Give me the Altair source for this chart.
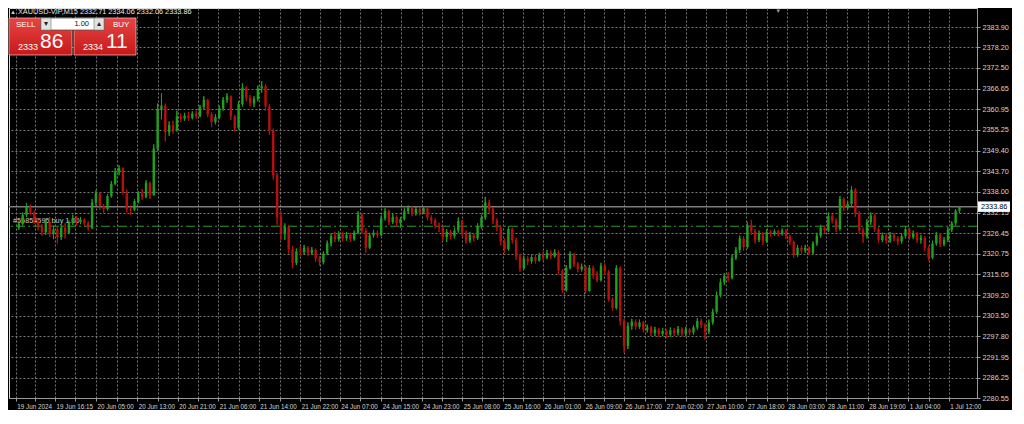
import altair as alt
import pandas as pd

# ---------------- data ----------------
first_open = 2328.0
closes = [
    2329.0, 2331.5, 2333.8, 2332.2, 2329.8, 2328.4, 2326.8, 2329.6, 2326.2, 2327.5,
    2325.4, 2328.0, 2326.6, 2329.4, 2330.6, 2329.6, 2330.2, 2329.2, 2328.0, 2335.0,
    2337.6, 2334.0, 2333.2, 2336.8, 2340.2, 2343.6, 2344.6, 2338.0, 2333.2, 2333.0,
    2335.4, 2337.6, 2336.6, 2340.4, 2337.0, 2350.0, 2360.8, 2362.0, 2354.6, 2356.6,
    2355.2, 2359.0, 2358.4, 2359.2, 2358.6, 2359.8, 2359.0, 2361.6, 2363.6, 2359.6,
    2357.4, 2358.8, 2361.2, 2363.6, 2364.6, 2359.0, 2355.8, 2362.4, 2367.0, 2364.2,
    2362.6, 2363.8, 2366.8, 2367.4, 2361.8, 2355.0, 2342.6, 2331.0, 2326.4, 2328.2,
    2322.0, 2318.2, 2321.4, 2321.2, 2322.4, 2321.0, 2321.8, 2319.4, 2318.4, 2320.8,
    2323.6, 2325.6, 2324.8, 2326.2, 2325.0, 2326.0, 2324.8, 2326.6, 2331.6, 2327.2,
    2322.4, 2325.8, 2326.6, 2326.0, 2330.6, 2332.6, 2329.6, 2331.0, 2329.2, 2330.4,
    2332.6, 2333.6, 2332.0, 2333.2, 2332.2, 2333.4, 2330.8, 2330.0, 2328.6, 2328.0,
    2325.4, 2326.8, 2325.6, 2327.2, 2329.8, 2326.6, 2324.4, 2326.0, 2325.0, 2328.4,
    2330.8, 2335.0, 2333.2, 2330.0, 2328.0, 2324.2, 2322.0, 2327.6, 2324.6, 2320.0,
    2316.6, 2319.4, 2318.6, 2319.8, 2318.8, 2320.4, 2319.6, 2321.0, 2320.0, 2321.2,
    2316.0, 2310.6, 2316.8, 2320.6, 2317.8, 2316.4, 2317.2, 2310.4, 2316.8, 2314.6,
    2313.4, 2317.4, 2315.8, 2308.0, 2305.6, 2316.8, 2302.0, 2295.0, 2300.6, 2301.8,
    2300.4, 2301.6, 2299.6, 2300.2, 2298.6, 2299.6, 2298.4, 2299.2, 2298.2, 2299.4,
    2298.6, 2299.8, 2298.4, 2299.6, 2298.8, 2300.2, 2302.0, 2300.8, 2299.0, 2301.6,
    2304.6, 2309.2, 2312.8, 2314.6, 2314.0, 2319.6, 2321.8, 2325.0, 2322.6, 2328.6,
    2327.0, 2324.6, 2326.4, 2324.2, 2326.8, 2326.2, 2327.0, 2326.4, 2327.2, 2325.6,
    2324.0, 2320.4, 2322.4, 2321.6, 2322.4, 2321.0, 2323.6, 2325.8, 2328.0, 2327.2,
    2331.2, 2330.0, 2327.6, 2336.0, 2333.6, 2334.6, 2338.6, 2332.0, 2327.2, 2325.6,
    2329.6, 2331.4, 2327.6, 2324.6, 2325.8, 2324.4, 2326.0, 2325.0, 2324.2, 2325.6,
    2327.6, 2325.4, 2326.4, 2324.6, 2325.2, 2322.4, 2319.6, 2323.6, 2326.0, 2323.4,
    2324.6, 2327.4, 2329.2, 2332.71, 2333.86,
]
highs = [
    2329.8, 2332.2, 2334.8, 2334.4, 2332.8, 2330.6, 2329.0, 2330.5, 2331.0, 2328.6,
    2328.4, 2328.8, 2329.2, 2330.0, 2331.6, 2331.2, 2331.0, 2330.6, 2329.8, 2336.0,
    2338.4, 2337.8, 2334.6, 2337.4, 2341.0, 2344.6, 2345.4, 2344.8, 2338.6, 2334.2,
    2336.0, 2338.2, 2338.8, 2341.2, 2340.8, 2351.2, 2362.6, 2365.4, 2362.6, 2357.6,
    2357.8, 2360.6, 2359.8, 2360.0, 2360.2, 2360.4, 2360.6, 2362.2, 2364.6, 2363.8,
    2360.2, 2359.6, 2362.0, 2364.4, 2365.4, 2364.8, 2359.4, 2363.2, 2368.2, 2367.4,
    2365.0, 2364.6, 2367.6, 2368.8, 2368.0, 2362.4, 2355.6, 2343.2, 2332.6, 2329.2,
    2328.6, 2323.0, 2322.2, 2322.8, 2323.2, 2322.8, 2322.6, 2322.2, 2320.0, 2321.4,
    2324.4, 2326.4, 2326.8, 2327.0, 2326.8, 2326.8, 2326.6, 2327.2, 2332.6, 2332.0,
    2327.8, 2326.6, 2327.4, 2327.2, 2331.4, 2333.4, 2333.0, 2331.8, 2331.4, 2331.0,
    2333.4, 2334.2, 2334.0, 2333.8, 2333.6, 2334.0, 2333.8, 2331.4, 2330.6, 2329.4,
    2328.4, 2327.6, 2327.4, 2328.0, 2330.8, 2330.2, 2327.2, 2326.8, 2326.6, 2329.2,
    2331.6, 2336.6, 2335.8, 2333.8, 2330.6, 2328.6, 2325.0, 2328.4, 2328.0, 2325.2,
    2320.6, 2320.2, 2320.0, 2320.6, 2320.4, 2321.0, 2321.4, 2321.8, 2321.6, 2322.0,
    2321.6, 2316.4, 2317.6, 2321.4, 2321.0, 2318.4, 2318.0, 2317.6, 2317.6, 2317.4,
    2315.8, 2318.2, 2318.0, 2316.2, 2308.6, 2317.6, 2317.2, 2302.6, 2301.6, 2302.6,
    2302.4, 2302.4, 2302.0, 2301.0, 2300.6, 2300.4, 2300.0, 2300.0, 2299.6, 2300.2,
    2300.0, 2300.6, 2300.2, 2300.4, 2300.0, 2300.8, 2302.8, 2302.6, 2301.4, 2302.4,
    2305.4, 2310.2, 2313.8, 2315.4, 2315.6, 2320.4, 2322.6, 2325.8, 2325.6, 2329.6,
    2330.2, 2327.6, 2327.2, 2326.8, 2327.6, 2327.4, 2327.6, 2327.4, 2327.8, 2327.6,
    2326.0, 2324.4, 2323.2, 2323.0, 2323.2, 2322.8, 2324.2, 2326.6, 2328.8, 2328.6,
    2332.2, 2331.8, 2330.6, 2336.8, 2336.4, 2335.4, 2339.6, 2339.0, 2332.6, 2328.0,
    2330.4, 2332.2, 2331.8, 2328.2, 2326.6, 2326.4, 2326.8, 2326.6, 2325.6, 2326.4,
    2328.4, 2328.0, 2327.2, 2326.8, 2326.0, 2325.6, 2322.8, 2324.4, 2326.8, 2326.4,
    2325.4, 2328.2, 2329.8, 2333.2, 2334.06,
]
lows = [
    2327.4, 2328.6, 2331.0, 2331.5, 2329.0, 2327.2, 2325.8, 2326.0, 2325.4, 2324.8,
    2323.6, 2324.6, 2325.0, 2326.2, 2328.8, 2328.6, 2329.0, 2328.4, 2327.2, 2327.6,
    2334.2, 2333.0, 2332.2, 2332.8, 2336.4, 2339.8, 2342.6, 2337.2, 2332.2, 2331.6,
    2332.6, 2334.8, 2335.8, 2336.2, 2336.0, 2337.2, 2349.4, 2358.2, 2352.0, 2353.6,
    2354.2, 2354.8, 2357.4, 2357.8, 2357.8, 2358.2, 2358.4, 2358.8, 2361.0, 2358.8,
    2356.0, 2356.8, 2358.2, 2360.6, 2362.8, 2358.0, 2354.8, 2355.4, 2361.8, 2363.2,
    2361.8, 2361.6, 2363.2, 2365.6, 2360.6, 2353.8, 2341.4, 2328.8, 2324.6, 2324.6,
    2320.8, 2316.7, 2317.6, 2320.2, 2320.6, 2320.2, 2320.4, 2318.4, 2317.4, 2317.8,
    2320.4, 2322.8, 2324.0, 2324.2, 2324.2, 2324.4, 2324.0, 2324.4, 2326.2, 2326.4,
    2321.0, 2322.0, 2325.2, 2325.2, 2325.6, 2330.0, 2328.8, 2329.0, 2328.4, 2328.0,
    2330.0, 2332.0, 2331.2, 2331.4, 2331.4, 2331.8, 2330.0, 2329.0, 2327.8, 2326.8,
    2324.4, 2324.0, 2324.8, 2325.0, 2326.6, 2325.6, 2323.6, 2323.8, 2324.2, 2324.6,
    2327.8, 2330.2, 2332.2, 2329.0, 2327.0, 2323.0, 2321.0, 2321.6, 2323.6, 2319.0,
    2315.7, 2316.4, 2317.6, 2318.0, 2318.0, 2318.6, 2318.8, 2319.2, 2319.2, 2319.6,
    2315.0, 2309.8, 2310.2, 2316.4, 2317.0, 2315.6, 2315.8, 2309.6, 2310.2, 2313.8,
    2312.8, 2313.0, 2314.8, 2307.4, 2304.8, 2305.2, 2300.8, 2293.2, 2294.2, 2299.6,
    2299.6, 2299.8, 2298.8, 2298.8, 2297.8, 2297.8, 2297.6, 2297.8, 2297.4, 2297.6,
    2297.8, 2298.0, 2297.6, 2297.8, 2298.0, 2298.2, 2299.6, 2300.0, 2296.8, 2298.4,
    2301.0, 2304.0, 2308.6, 2312.0, 2313.0, 2313.6, 2319.0, 2321.0, 2321.6, 2322.2,
    2326.0, 2323.6, 2324.0, 2323.2, 2323.8, 2325.4, 2325.8, 2325.6, 2325.8, 2324.8,
    2323.2, 2319.6, 2319.8, 2320.8, 2321.0, 2320.4, 2320.6, 2323.0, 2325.2, 2326.4,
    2326.8, 2329.2, 2326.8, 2327.2, 2332.6, 2333.0, 2333.8, 2331.0, 2326.4, 2323.8,
    2325.0, 2328.8, 2326.8, 2323.8, 2324.0, 2323.6, 2323.8, 2324.2, 2323.2, 2323.6,
    2325.0, 2324.6, 2324.8, 2323.8, 2323.6, 2321.4, 2318.8, 2319.2, 2323.0, 2322.6,
    2322.8, 2324.0, 2326.8, 2328.6, 2332.06,
]
assert len(closes) == len(highs) == len(lows)

price_ticks = [2383.90, 2378.20, 2372.50, 2366.65, 2360.95, 2355.25, 2349.40,
               2343.70, 2338.00, 2332.15, 2326.45, 2320.75, 2315.05, 2309.20,
               2303.50, 2297.80, 2291.95, 2286.25, 2280.55]
time_labels = ["19 Jun 2024", "19 Jun 16:15", "20 Jun 05:00", "20 Jun 13:00",
               "20 Jun 21:00", "21 Jun 06:00", "21 Jun 14:00", "21 Jun 22:00",
               "24 Jun 07:00", "24 Jun 15:00", "24 Jun 23:00", "25 Jun 08:00",
               "25 Jun 16:00", "26 Jun 01:00", "26 Jun 09:00", "26 Jun 17:00",
               "27 Jun 02:00", "27 Jun 10:00", "27 Jun 18:00", "28 Jun 03:00",
               "28 Jun 11:00", "28 Jun 19:00", "1 Jul 04:00", "1 Jul 12:00"]
# bar index at which each time label sits
time_label_bars = [-0.8, 9.4, 20.0, 30.7, 41.25, 51.75, 62.25, 73.0, 83.25, 94.0,
                   104.5, 115.0, 125.5, 136.0, 146.7, 157.0, 167.7, 178.2, 188.75,
                   199.2, 209.5, 220.2, 230.7, 241.25]
current_price = 2333.86
order_price = 2328.4
order_label = "#55854595 buy 1.00"
header = "XAUUSD-VIP,M15  2332.71 2334.06 2332.06 2333.86"
sell_big, sell_small = "86", "2333"
buy_big, buy_small = "11", "2334"
lot = "1.00"

# ---------------- build table ----------------
opens = [first_open] + closes[:-1]
rows = []
for i, (o, h, l, c) in enumerate(zip(opens, highs, lows, closes)):
    rows.append({"i": i, "open": o, "close": c,
                 "high": max(h, o, c), "low": min(l, o, c),
                 "dir": "up" if c >= o else "down"})
df = pd.DataFrame(rows)

W, H = 968, 390
FONT = "Liberation Sans"
GRID = "#787878"
AXC = "#9a9a9a"
LAB = "#d4d4d4"
GREEN = "#1ea21e"
RED = "#b81010"

mids = [(a + b) / 2 for a, b in zip(time_label_bars[:-1], time_label_bars[1:])]
grid_vals = sorted(time_label_bars + mids)
lab_expr = ("indexof(%s, datum.value) >= 0 ? %s[indexof(%s, datum.value)] : ''"
            % (str(time_label_bars), str(time_labels), str(time_label_bars)))

xs = alt.Scale(domain=[-1.25, 247.25], nice=False, zero=False)
ys = alt.Scale(domain=[2280.55, 2389.2], nice=False, zero=False)
cs = alt.Scale(domain=["up", "down"], range=[GREEN, RED])

x_axis = alt.Axis(values=grid_vals, labelExpr=lab_expr, grid=True, gridColor=GRID,
                  gridDash=[2, 2], gridWidth=1, domainColor=AXC, tickColor=AXC,
                  tickSize=3, labelColor=LAB, labelFont=FONT, labelFontSize=6.3,
                  labelAlign="left", labelPadding=2, labelOverlap=False,
                  labelFlush=False, labelOffset=1, title=None)
y_axis = alt.Axis(orient="right", values=price_ticks, format=".2f", grid=True,
                  gridColor=GRID, gridDash=[2, 2], gridWidth=1, domainColor=AXC,
                  tickColor=AXC, tickSize=3, labelColor=LAB, labelFont=FONT,
                  labelFontSize=7.3, labelPadding=2, labelOverlap=False,
                  labelFlush=False, title=None)

base = alt.Chart(df)
wicks = base.mark_rule(strokeWidth=1).encode(
    x=alt.X("i:Q", scale=xs, axis=x_axis),
    y=alt.Y("low:Q", scale=ys, axis=y_axis),
    y2="high:Q",
    color=alt.Color("dir:N", scale=cs, legend=None),
)
bodies = base.mark_bar(size=2.4).encode(
    x=alt.X("i:Q", scale=xs, axis=x_axis),
    y=alt.Y("open:Q", scale=ys, axis=y_axis),
    y2="close:Q",
    color=alt.Color("dir:N", scale=cs, legend=None),
)

lines_df = pd.DataFrame({"p": [current_price]})
cur_line = alt.Chart(lines_df).mark_rule(color="#7c7c7c", strokeWidth=1.5).encode(
    y=alt.Y("p:Q", scale=ys, axis=y_axis))
ord_df = pd.DataFrame({"p": [order_price], "t": [order_label]})
ord_line = alt.Chart(ord_df).mark_rule(color="#2c9a2c", strokeWidth=1,
                                       strokeDash=[9, 3, 2, 3]).encode(
    y=alt.Y("p:Q", scale=ys, axis=y_axis))
ord_text = alt.Chart(ord_df).mark_text(align="left", baseline="bottom", dy=-1,
                                       font=FONT, fontSize=7.3, color="#c8c8c8").encode(
    x=alt.value(4), y=alt.Y("p:Q", scale=ys, axis=y_axis), text="t:N")

tag_df = pd.DataFrame({"p": [current_price], "t": ["%.2f" % current_price]})
tag_box = alt.Chart(tag_df).transform_calculate(
    p1="datum.p + 1.45", p2="datum.p - 1.45").mark_rect(fill="#ffffff").encode(
    x=alt.value(W + 1), x2=alt.value(W + 33),
    y=alt.Y("p1:Q", scale=ys, axis=y_axis), y2="p2:Q")
tag_text = alt.Chart(tag_df).mark_text(align="left", baseline="middle", font=FONT,
                                       fontSize=7.3, color="#000000").encode(
    x=alt.value(W + 4), y=alt.Y("p:Q", scale=ys, axis=y_axis), text="t:N")

one = pd.DataFrame({"a": [0]})


def box(x1, x2, y1, y2, fill, stroke=None, sw=1):
    kw = {"fill": fill}
    if stroke:
        kw.update(stroke=stroke, strokeWidth=sw)
    return alt.Chart(one).mark_rect(**kw).encode(
        x=alt.value(x1), x2=alt.value(x2), y=alt.value(y1), y2=alt.value(y2))


def txt(x, y, s, size, color="#ffffff", align="left", weight="normal"):
    return alt.Chart(one).mark_text(align=align, baseline="middle", font=FONT,
                                    fontSize=size, color=color,
                                    fontWeight=weight).encode(
        x=alt.value(x), y=alt.value(y), text=alt.value(s))


red_grad = alt.LinearGradient(
    gradient="linear",
    stops=[alt.GradientStop(color="#e64545", offset=0),
           alt.GradientStop(color="#c81818", offset=1)],
    x1=0, x2=0, y1=0, y2=1)

panel = [
    txt(1, 4, "▲", 6, "#cfcfcf"),
    txt(9, 4, header, 7.3, "#e6e6e6"),
    box(0, 63, 10, 47, red_grad, "#f2b0b0", 0.8),
    box(65, 127, 10, 47, red_grad, "#f2b0b0", 0.8),
    box(32, 95, 10, 22, "#ffffff", "#555555", 0.8),
    box(32, 42, 10, 22, "#e2e2e2", "#777777", 0.6),
    box(85, 95, 10, 22, "#e2e2e2", "#777777", 0.6),
    txt(37, 16, "▾", 8, "#222222", "center"),
    txt(90, 16, "▴", 8, "#222222", "center"),
    txt(80, 16, lot, 7.5, "#111111", "right"),
    txt(7, 17, "SELL", 8, "#ffffff"),
    txt(104, 17, "BUY", 8, "#ffffff"),
    txt(9, 39, sell_small, 9, "#ffffff"),
    txt(31, 34, sell_big, 21, "#ffffff"),
    txt(74, 39, buy_small, 9, "#ffffff"),
    txt(97, 34, buy_big, 21, "#ffffff"),
]
shift_mark = alt.Chart(one).mark_text(font=FONT, fontSize=6, color="#9a9a9a",
                                      baseline="top").encode(
    x=alt.X("a2:Q", scale=xs, axis=x_axis), y=alt.value(0), text=alt.value("▼")
).transform_calculate(a2="197")

chart = alt.layer(
    wicks, cur_line, ord_line, ord_text, bodies, wicks, tag_box, tag_text,
    shift_mark, *panel
).properties(
    width=W, height=H, background="#000000",
    padding={"left": 0, "right": 2, "top": 0, "bottom": 0},
).configure_view(stroke=None, fill="#000000").configure(font=FONT)

chart.save("out.html", embed_options={"renderer": "svg", "actions": False})
